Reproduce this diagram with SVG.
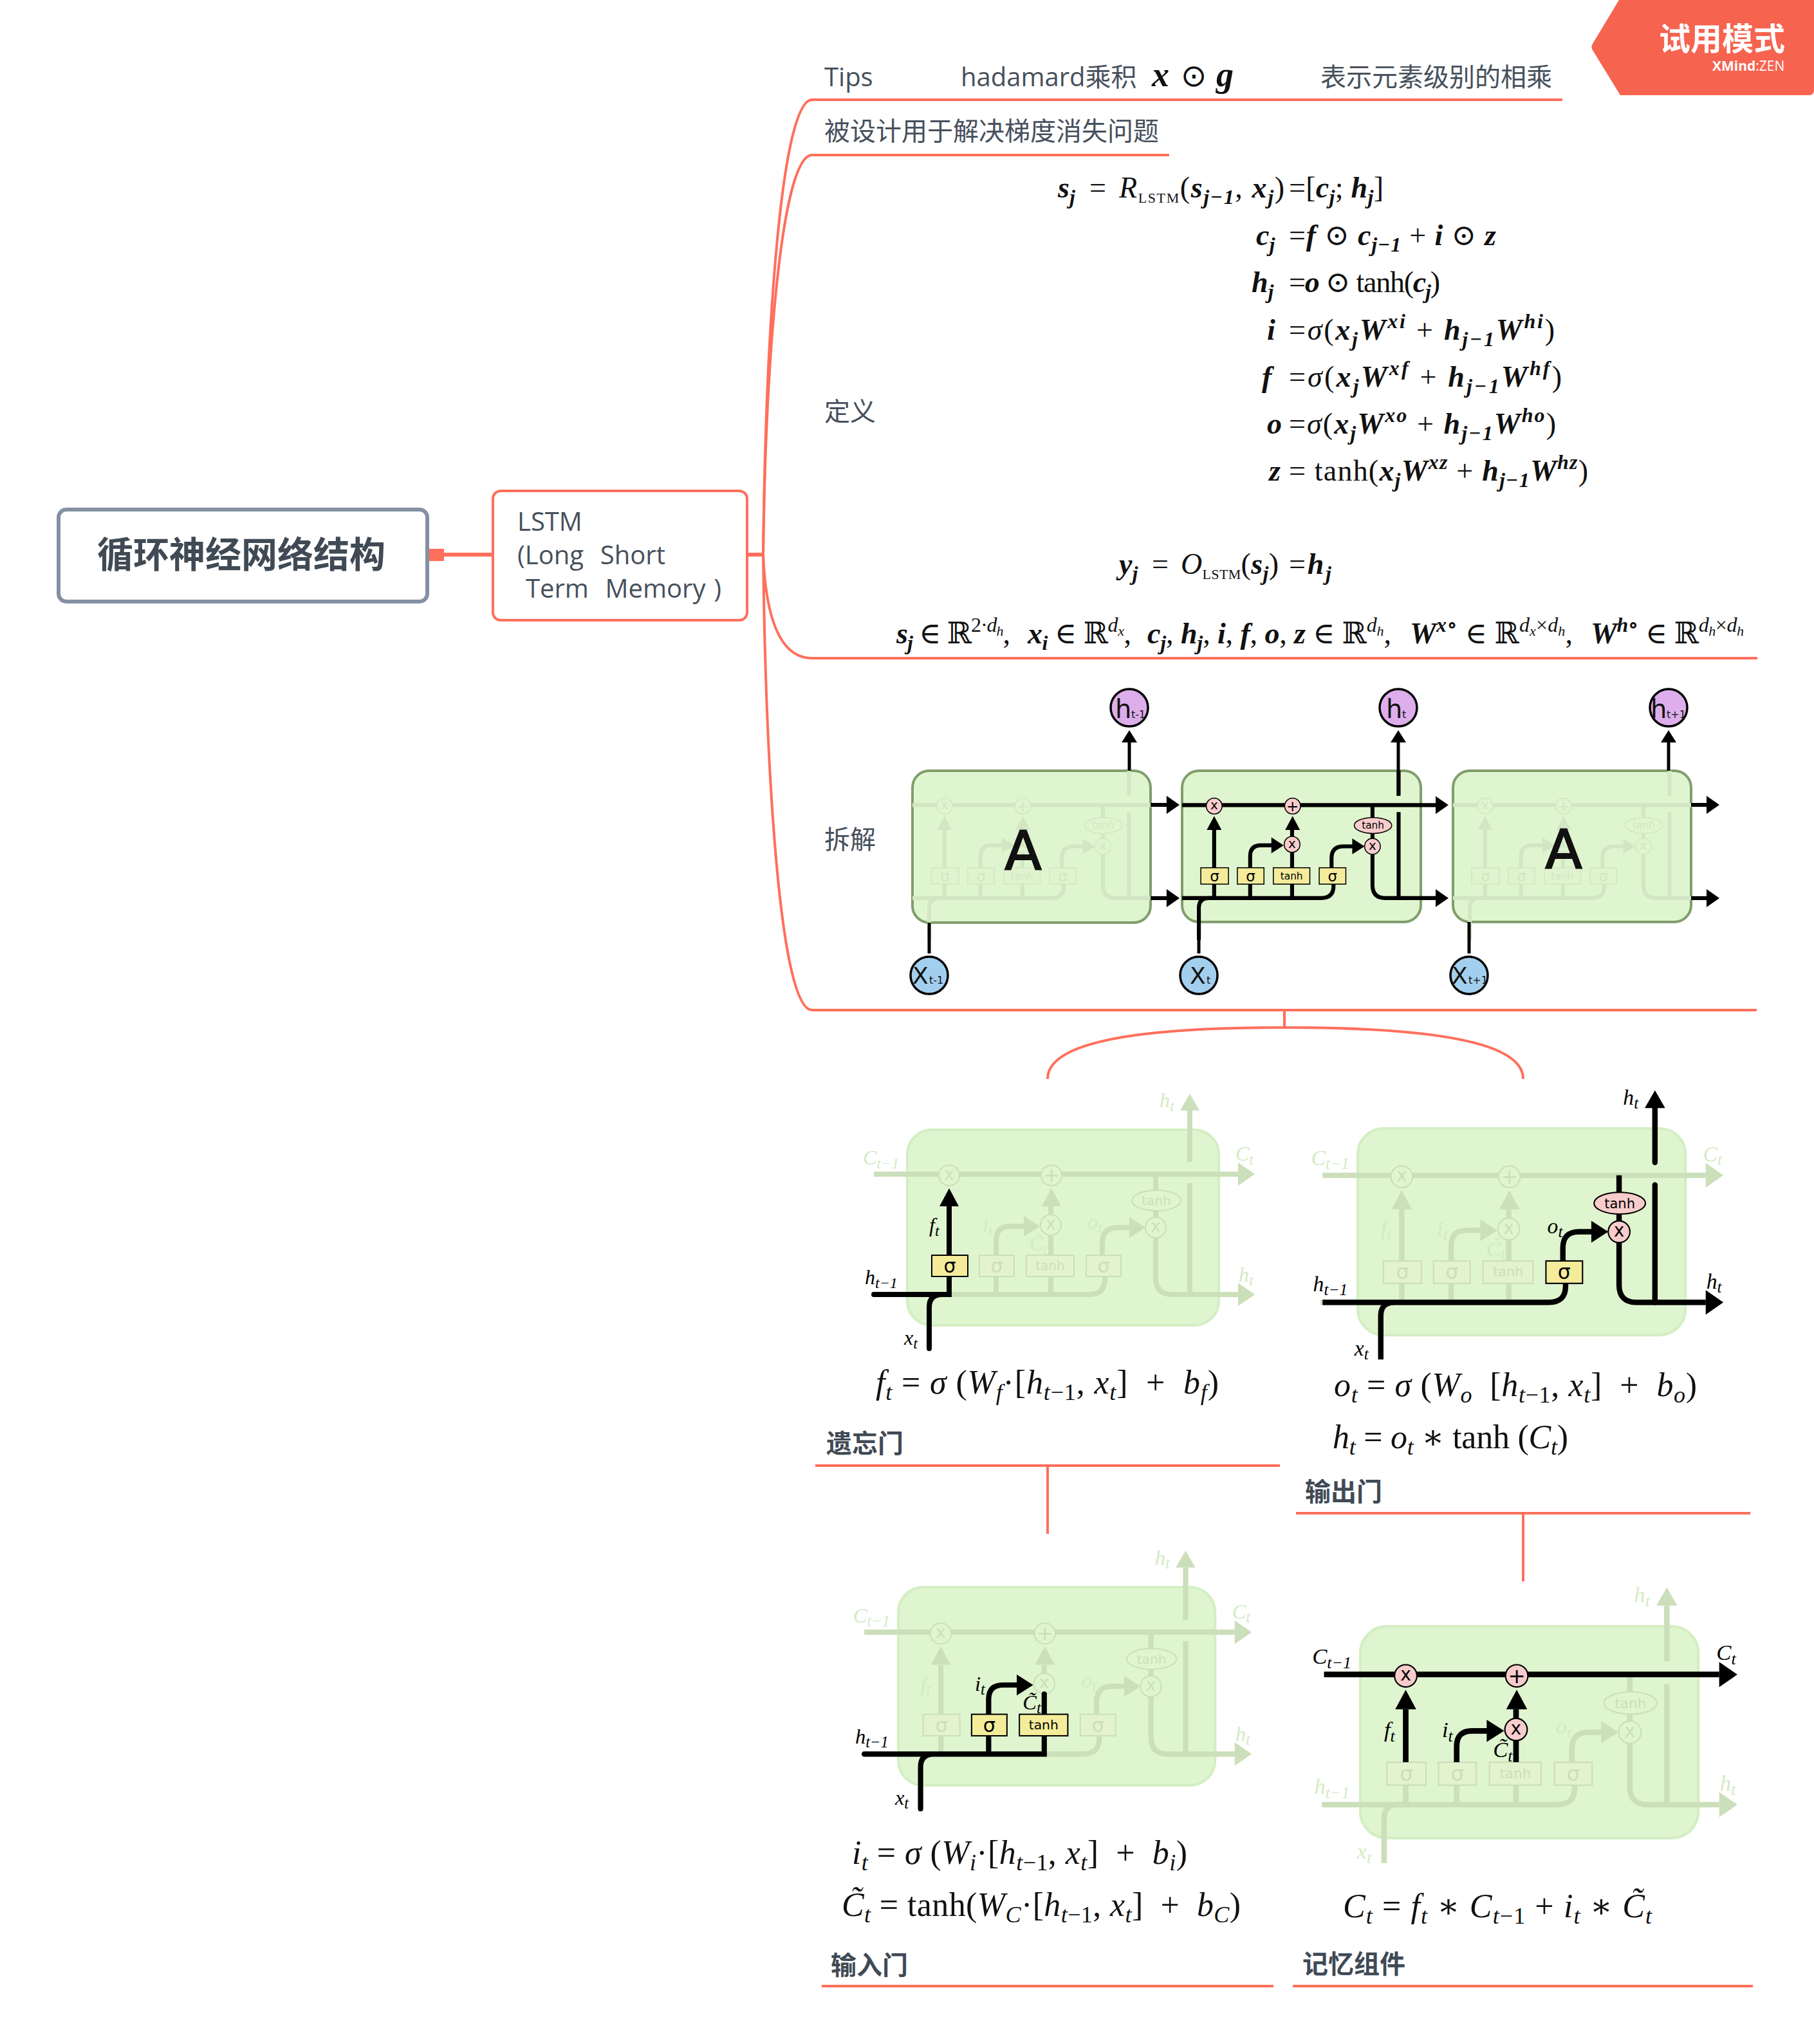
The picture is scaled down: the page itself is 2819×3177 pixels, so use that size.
<svg xmlns="http://www.w3.org/2000/svg" xmlns:xlink="http://www.w3.org/1999/xlink" width="2819" height="3177" viewBox="0 0 2819 3177">
<style>
text{white-space:pre}
.t{font:40px "Open Sans","Noto Sans CJK SC",sans-serif;fill:#46505C}
.ws{word-spacing:2.5px}
.tb{font:700 40px "Noto Sans CJK SC",sans-serif;fill:#3F4A55}
.tree{fill:none;stroke:#FF6F5B;stroke-width:4}
.m{font:46px "Liberation Serif","DejaVu Serif",serif;fill:#111}
.b{font-weight:700;font-style:italic}
.i{font-style:italic}
.sb{font-size:32px;baseline-shift:-10px}
.sp{font-size:32px;baseline-shift:18px}
.ssb{font-size:22px;baseline-shift:-6px}
.ls{font-size:22px;font-style:normal;font-weight:400;baseline-shift:-8px}
.f{font:52px "Liberation Serif","DejaVu Serif",serif;fill:#111}
.fs{font-size:36px;baseline-shift:-10px}
.faint{color:#CBDFBA;--g:#E3F3CD;--o:#DFF5CF}
.faint2{color:#D3E6C3;--g:#E0F3CE;--o:#DFF5CF}
.hi{color:#000;--g:#F4EC9A;--o:#F8CCCC}
.ln{fill:none;stroke:currentColor;stroke-width:8}
.ah{fill:currentColor;stroke:none}
.gt{fill:var(--g);stroke:currentColor;stroke-width:2}
.op{fill:var(--o);stroke:currentColor;stroke-width:2}
.gl{font-family:"DejaVu Sans",sans-serif;fill:currentColor;text-anchor:middle}
.lb{font:italic 32px "Liberation Serif","DejaVu Serif",serif;fill:currentColor}
.ls2{font-size:24px;baseline-shift:-6px}
.lbf{color:#D3EBC2}
.cellbox{fill:#DFF5CF;stroke:#D4EEC3;stroke-width:4}
.chainbox{fill:#DFF5CF;stroke:#7F9E6C;stroke-width:4}
.blk{fill:none;stroke:#000;stroke-width:5}
.pur{fill:#DDAEEB;stroke:#000;stroke-width:3.5}
.blu{fill:#A3CFEE;stroke:#000;stroke-width:3.5}
.big{font-family:"DejaVu Sans",sans-serif;fill:#111}
</style>
<defs>
<polygon id="ar1" class="ah" points="0,-18 26,0 0,18"/>
<polygon id="ar2" class="ah" points="0,-16 25,0 0,16"/>
<polygon id="au" class="ah" points="-15,0 0,-28 15,0"/>
<g id="s1"><rect class="gt" x="38" y="195" width="56" height="33"/><text class="gl" x="66" y="222" font-size="30">σ</text></g>
<g id="s2"><rect class="gt" x="112" y="195" width="54" height="33"/><text class="gl" x="139" y="222" font-size="30">σ</text></g>
<g id="tb"><rect class="gt" x="185" y="195" width="74" height="33"/><text class="gl" x="222" y="218" font-size="20">tanh</text></g>
<g id="s3"><rect class="gt" x="278" y="195" width="54" height="33"/><text class="gl" x="305" y="222" font-size="30">σ</text></g>
<g id="m1"><circle class="op" cx="65" cy="71" r="16"/><text class="gl" x="65" y="78" font-size="26">x</text></g>
<g id="pl"><circle class="op" cx="224" cy="71" r="16"/><text class="gl" x="224" y="81" font-size="30">+</text></g>
<g id="m2"><circle class="op" cx="223" cy="148" r="16"/><text class="gl" x="223" y="155" font-size="26">x</text></g>
<g id="m3"><circle class="op" cx="386" cy="152" r="16"/><text class="gl" x="386" y="159" font-size="26">x</text></g>
<g id="to"><ellipse class="op" cx="387" cy="110" rx="38" ry="16"/><text class="gl" x="387" y="117" font-size="20">tanh</text></g>
<g id="p-top"><path class="ln" d="M0 69H514"/><use href="#ar1" x="514" y="69"/></g>
<path id="p-bl" class="ln" d="M0 256H282Q307 256 307 232V228"/>
<g id="p-br"><path class="ln" d="M386 168V230Q386 256 412 256H514"/><use href="#ar1" x="514" y="256"/></g>
<path id="p-x" class="ln" d="M34 340V276Q34 256 54 256H70"/>
<g id="p-f"><path class="ln" d="M65 256V228M65 195V119"/><use href="#au" x="65" y="119"/></g>
<g id="p-i"><path class="ln" d="M138 256V228M138 195V172Q138 150 160 150H182"/><use href="#ar2" x="181" y="150"/></g>
<g id="p-c"><path class="ln" d="M223 256V228M223 195V164M223 132V119"/><use href="#au" x="224" y="119"/></g>
<g id="p-o"><path class="ln" d="M303 195V176Q303 152 327 152H347"/><use href="#ar2" x="345" y="152"/></g>
<path id="p-t" class="ln" d="M386 69V94M386 126V136"/>
<path id="p-h" class="ln" d="M439 256V83M439 50V0"/>
<g id="core">
<use href="#p-bl"/><use href="#p-x"/><use href="#p-top"/><use href="#p-br"/><use href="#p-f"/><use href="#p-i"/><use href="#p-c"/><use href="#p-o"/><use href="#p-t"/><use href="#p-h"/>
<use href="#s1"/><use href="#s2"/><use href="#tb"/><use href="#s3"/><use href="#m1"/><use href="#pl"/><use href="#m2"/><use href="#m3"/><use href="#to"/>
</g>
<g id="stubs"><path class="ln" d="M-52 69H0M-55 256H0M439 0V-30"/><polygon class="ah" points="424,-30 439,-56 454,-30"/></g>
<text id="l-cp" class="lb" x="-69" y="54">C<tspan class="ls2">t−1</tspan></text>
<text id="l-c" class="lb" x="510" y="48">C<tspan class="ls2">t</tspan></text>
<text id="l-ht" class="lb" x="392" y="-35">h<tspan class="ls2">t</tspan></text>
<text id="l-hr" class="lb" x="515" y="236">h<tspan class="ls2">t</tspan></text>
<text id="l-hp" class="lb" x="-66" y="240">h<tspan class="ls2">t−1</tspan></text>
<text id="l-x" class="lb" x="-5" y="334">x<tspan class="ls2">t</tspan></text>
<text id="l-f" class="lb" x="34" y="159">f<tspan class="ls2">t</tspan></text>
<text id="l-i" class="lb" x="117" y="159">i<tspan class="ls2">t</tspan></text>
<text id="l-ct" class="lb" x="190" y="188">C̃<tspan class="ls2">t</tspan></text>
<text id="l-o" class="lb" x="280" y="154">o<tspan class="ls2">t</tspan></text>
<g id="faintcell" class="faint">
<rect class="cellbox" x="0" y="0" width="484" height="304" rx="38"/>
<use href="#stubs"/><use href="#core"/>
</g>
</defs>

<g id="connectors">
<path class="tree" style="stroke-width:6" d="M690 862H766"/>
<rect x="667" y="853" width="23" height="19" fill="#FF6F5B"/>
<path class="tree" style="stroke-width:6" d="M1161 862H1186"/>
<path class="tree" d="M1186 862C1190 500 1215 155 1262 155H2428"/>
<path class="tree" d="M1186 862C1190 550 1215 241 1262 241H1817"/>
<path class="tree" d="M1186 862C1190 960 1212 1023 1262 1023H2731"/>
<path class="tree" d="M1186 862C1190 1200 1212 1570 1262 1570H2730"/>
<path class="tree" d="M1996 1570V1597M1628 1677C1628 1630 1720 1597 1996 1597C2272 1597 2367 1630 2367 1677"/>
<path class="tree" d="M1267 2278H1989M1628 2278V2384"/>
<path class="tree" d="M2014 2352H2720M2367 2352V2458"/>
<path class="tree" d="M1277 3087H1979"/>
<path class="tree" d="M2009 3087H2724"/>
</g>

<g id="badge">
<path d="M2516 0H2819V140Q2819 148 2811 148H2518L2475 78Q2472 73 2475 68Z" fill="#F6634F"/>
<text x="2578" y="78" font-family="Noto Sans CJK SC,sans-serif" font-weight="700" font-size="49" fill="#fff">试用模式</text>
<text x="2661" y="110" font-family="Open Sans,sans-serif" font-size="21" fill="#fff"><tspan font-weight="700">XMind</tspan>:ZEN</text>
</g>

<g id="root">
<rect x="91" y="792" width="573" height="143" rx="12" fill="#fff" stroke="#8490A3" stroke-width="6"/>
<text x="375" y="882" text-anchor="middle" font-family="Noto Sans CJK SC,sans-serif" font-weight="700" font-size="56" fill="#3F4A55">循环神经网络结构</text>
</g>
<g id="lstm">
<rect x="766" y="763" width="395" height="201" rx="12" fill="#fff" stroke="#FF6F5B" stroke-width="4"/>
<text class="t ws" x="804" y="825">LSTM</text>
<text class="t ws" x="804" y="877">(Long  Short</text>
<text class="t ws" x="804" y="929"> Term  Memory )</text>
</g>
<g id="tips">
<text class="t" x="1281" y="134">Tips</text>
<text class="t" x="1493" y="134">hadamard乘积</text>
<text x="1790" y="134" font-family="Liberation Serif,serif" font-weight="700" font-style="italic" font-size="54" fill="#111">x</text>
<text x="1855" y="134" text-anchor="middle" font-family="DejaVu Sans,sans-serif" font-size="48" fill="#111">⊙</text>
<text x="1890" y="134" font-family="Liberation Serif,serif" font-weight="700" font-style="italic" font-size="54" fill="#111">g</text>
<text class="t" x="2052" y="134">表示元素级别的相乘</text>
</g>
<g id="purpose"><text class="t" x="1281" y="218">被设计用于解决梯度消失问题</text></g>

<g id="definition">
<text class="t" x="1281" y="654">定义</text>
<text class="m" x="1644" y="307"><tspan class="b">s<tspan class="sb">j</tspan></tspan></text><text class="m" x="1693" y="307">=</text>
<text class="m" x="1739" y="307" textLength="257"><tspan class="i">R</tspan><tspan class="ls">LSTM</tspan>(<tspan class="b">s<tspan class="sb">j−1</tspan></tspan>, <tspan class="b">x<tspan class="sb">j</tspan></tspan>)</text>
<text class="m" x="2003" y="307" textLength="147">=[<tspan class="b">c<tspan class="sb">j</tspan></tspan>; <tspan class="b">h<tspan class="sb">j</tspan></tspan>]</text>
<text class="m" x="1952" y="381"><tspan class="b">c<tspan class="sb">j</tspan></tspan></text>
<text class="m" x="2003" y="381" textLength="322">=<tspan class="b">f</tspan> ⊙ <tspan class="b">c<tspan class="sb">j−1</tspan></tspan> + <tspan class="b">i</tspan> ⊙ <tspan class="b">z</tspan></text>
<text class="m" x="1945" y="454"><tspan class="b">h<tspan class="sb">j</tspan></tspan></text>
<text class="m" x="2003" y="454" textLength="235">=<tspan class="b">o</tspan> ⊙ tanh(<tspan class="b">c<tspan class="sb">j</tspan></tspan>)</text>
<text class="m" x="1969" y="528"><tspan class="b">i</tspan></text>
<text class="m" x="2003" y="528" textLength="413">=<tspan class="i">σ</tspan>(<tspan class="b">x<tspan class="sb">j</tspan>W<tspan class="sp">xi</tspan></tspan> + <tspan class="b">h<tspan class="sb">j−1</tspan>W<tspan class="sp">hi</tspan></tspan>)</text>
<text class="m" x="1961" y="601"><tspan class="b">f</tspan></text>
<text class="m" x="2003" y="601" textLength="424">=<tspan class="i">σ</tspan>(<tspan class="b">x<tspan class="sb">j</tspan>W<tspan class="sp">xf</tspan></tspan> + <tspan class="b">h<tspan class="sb">j−1</tspan>W<tspan class="sp">hf</tspan></tspan>)</text>
<text class="m" x="1969" y="674"><tspan class="b">o</tspan></text>
<text class="m" x="2003" y="674" textLength="415">=<tspan class="i">σ</tspan>(<tspan class="b">x<tspan class="sb">j</tspan>W<tspan class="sp">xo</tspan></tspan> + <tspan class="b">h<tspan class="sb">j−1</tspan>W<tspan class="sp">ho</tspan></tspan>)</text>
<text class="m" x="1972" y="747"><tspan class="b">z</tspan></text>
<text class="m" x="2003" y="747" textLength="465">= tanh(<tspan class="b">x<tspan class="sb">j</tspan>W<tspan class="sp">xz</tspan></tspan> + <tspan class="b">h<tspan class="sb">j−1</tspan>W<tspan class="sp">hz</tspan></tspan>)</text>
<text class="m" x="1739" y="892"><tspan class="b">y<tspan class="sb">j</tspan></tspan></text><text class="m" x="1790" y="892">=</text>
<text class="m" x="1835" y="892" textLength="152"><tspan class="i">O</tspan><tspan class="ls">LSTM</tspan>(<tspan class="b">s<tspan class="sb">j</tspan></tspan>)</text>
<text class="m" x="2003" y="892" textLength="66">=<tspan class="b">h<tspan class="sb">j</tspan></tspan></text>
<text class="m" x="1393" y="1000" textLength="177"><tspan class="b">s<tspan class="sb">j</tspan></tspan> ∈ ℝ<tspan class="sp">2·<tspan class="i">d<tspan class="ssb">h</tspan></tspan></tspan>,</text>
<text class="m" x="1597" y="1000" textLength="161"><tspan class="b">x<tspan class="sb">i</tspan></tspan> ∈ ℝ<tspan class="sp i">d<tspan class="ssb">x</tspan></tspan>,</text>
<text class="m" x="1783" y="1000" textLength="379"><tspan class="b">c<tspan class="sb">j</tspan></tspan>, <tspan class="b">h<tspan class="sb">j</tspan></tspan>, <tspan class="b">i</tspan>, <tspan class="b">f</tspan>, <tspan class="b">o</tspan>, <tspan class="b">z</tspan> ∈ ℝ<tspan class="sp i">d<tspan class="ssb">h</tspan></tspan>,</text>
<text class="m" x="2191" y="1000" textLength="253"><tspan class="b">W<tspan class="sp">x∘</tspan></tspan> ∈ ℝ<tspan class="sp i">d<tspan class="ssb">x</tspan><tspan style="font-style:normal">×</tspan>d<tspan class="ssb">h</tspan></tspan>,</text>
<text class="m" x="2472" y="1000" textLength="238"><tspan class="b">W<tspan class="sp">h∘</tspan></tspan> ∈ ℝ<tspan class="sp i">d<tspan class="ssb">h</tspan><tspan style="font-style:normal">×</tspan>d<tspan class="ssb">h</tspan></tspan></text>
</g>

<g id="chain">
<text class="t" x="1281" y="1319">拆解</text>
<g id="cell-left">
<rect class="chainbox" x="1418" y="1198" width="370" height="236" rx="26"/>
<g class="faint2" transform="translate(1418 1198) scale(.7665 .773)"><use href="#core"/></g>
<text class="big" x="1590" y="1352" text-anchor="middle" font-size="84" stroke="#111" stroke-width="2">A</text>
</g>
<g id="cell-mid">
<rect class="chainbox" x="1837" y="1198" width="371" height="235" rx="26"/>
<g class="hi" transform="translate(1837 1198) scale(.7665 .773)"><use href="#core"/></g>
</g>
<g id="cell-right">
<rect class="chainbox" x="2258" y="1198" width="370" height="235" rx="26"/>
<g class="faint2" transform="translate(2258 1198) scale(.7665 .773)"><use href="#core"/></g>
<text class="big" x="2430" y="1350" text-anchor="middle" font-size="84" stroke="#111" stroke-width="2">A</text>
</g>
<g id="chain-links">
<path class="blk" style="stroke-width:6" d="M1788 1251H1815M1788 1396H1815M2628 1251H2654M2628 1396H2654"/>
<path d="M1813 1237L1833 1251L1813 1265ZM1813 1382L1833 1396L1813 1410ZM2652 1237L2672 1251L2652 1265ZM2652 1382L2672 1396L2652 1410Z" fill="#000"/>
<path class="blk" d="M1755 1198V1154M2173 1237V1154M2593 1198V1154M1444 1434V1482M1863 1430V1482M2283 1433V1482"/>
<path d="M1755 1135L1743 1154H1767ZM2173 1135L2161 1154H2185ZM2593 1135L2581 1154H2605Z" fill="#000"/>
</g>
<g id="h-prev"><circle class="pur" cx="1755" cy="1100" r="29"/><text class="big" x="1733" y="1116" font-size="40">h</text><text class="big" x="1758" y="1116" font-size="16">t-1</text></g>
<g id="h-cur"><circle class="pur" cx="2173" cy="1100" r="29"/><text class="big" x="2154" y="1116" font-size="40">h</text><text class="big" x="2179" y="1116" font-size="16">t</text></g>
<g id="h-next"><circle class="pur" cx="2593" cy="1100" r="29"/><text class="big" x="2565" y="1116" font-size="40">h</text><text class="big" x="2590" y="1116" font-size="16">t+1</text></g>
<g id="x-prev"><circle class="blu" cx="1444" cy="1516" r="29"/><text class="big" x="1418" y="1529" font-size="36">X</text><text class="big" x="1444" y="1529" font-size="16">t-1</text></g>
<g id="x-cur"><circle class="blu" cx="1863" cy="1516" r="29"/><text class="big" x="1849" y="1529" font-size="36">X</text><text class="big" x="1875" y="1529" font-size="16">t</text></g>
<g id="x-next"><circle class="blu" cx="2283" cy="1516" r="29"/><text class="big" x="2256" y="1529" font-size="36">X</text><text class="big" x="2282" y="1529" font-size="16">t+1</text></g>
</g>

<g id="forget-gate">
<g transform="translate(1410 1756)">
<use href="#faintcell"/>
<g class="lbf"><use href="#l-cp"/><use href="#l-c"/><use href="#l-ht"/><use href="#l-hr"/><use href="#l-i"/><use href="#l-ct"/><use href="#l-o"/></g>
<g class="hi"><path class="ln" stroke-linecap="round" d="M-52 256H65V228M65 195V119M34 340V276Q34 256 54 256"/><use href="#au" x="65" y="119"/><use href="#s1"/><use href="#l-hp"/><use href="#l-x"/><use href="#l-f"/></g>
</g>
<text class="f" x="1361" y="2166" textLength="533"><tspan class="i">f<tspan class="fs">t</tspan></tspan> = <tspan class="i">σ</tspan> (<tspan class="i">W<tspan class="fs">f</tspan></tspan>·[<tspan class="i">h<tspan class="fs">t</tspan></tspan><tspan class="fs">−1</tspan>, <tspan class="i">x<tspan class="fs">t</tspan></tspan>]  +  <tspan class="i">b<tspan class="fs">f</tspan></tspan>)</text>
<text class="tb" x="1284" y="2258">遗忘门</text>
</g>

<g id="output-gate">
<g transform="translate(2110 1754) scale(1.052 1.056)">
<use href="#faintcell"/>
<g class="lbf"><use href="#l-cp"/><use href="#l-c"/><use href="#l-f"/><use href="#l-i"/><use href="#l-ct"/></g>
<g class="hi"><path class="ln" d="M-52 256H282Q307 256 307 232V228M34 340V276Q34 256 54 256"/><use href="#p-o"/><use href="#p-t"/><use href="#p-br"/><path class="ln" stroke-linecap="round" d="M439 256V83M439 50V-30"/><polygon class="ah" points="424,-30 439,-56 454,-30"/><use href="#s3"/><use href="#m3"/><use href="#to"/><use href="#l-hp"/><use href="#l-x"/><use href="#l-o"/><use href="#l-ht"/><use href="#l-hr"/></g>
</g>
<text class="f" x="2073" y="2170" textLength="564"><tspan class="i">o<tspan class="fs">t</tspan></tspan> = <tspan class="i">σ</tspan> (<tspan class="i">W<tspan class="fs">o</tspan></tspan>  [<tspan class="i">h<tspan class="fs">t</tspan></tspan><tspan class="fs">−1</tspan>, <tspan class="i">x<tspan class="fs">t</tspan></tspan>]  +  <tspan class="i">b<tspan class="fs">o</tspan></tspan>)</text>
<text class="f" x="2071" y="2251" textLength="366"><tspan class="i">h<tspan class="fs">t</tspan></tspan> = <tspan class="i">o<tspan class="fs">t</tspan></tspan> ∗ tanh (<tspan class="i">C<tspan class="fs">t</tspan></tspan>)</text>
<text class="tb" x="2028" y="2333">输出门</text>
</g>

<g id="input-gate">
<g transform="translate(1396 2467) scale(1.017 1.013)">
<use href="#faintcell"/>
<g class="lbf"><use href="#l-cp"/><use href="#l-c"/><use href="#l-ht"/><use href="#l-hr"/><use href="#l-f"/><use href="#l-o"/></g>
<g class="hi"><path class="ln" stroke-linecap="round" d="M-52 256H223V228M223 195V164M34 340V276Q34 256 54 256"/><use href="#p-i"/><use href="#s2"/><use href="#tb"/><use href="#l-hp"/><use href="#l-x"/><use href="#l-i"/><use href="#l-ct"/></g>
</g>
<text class="f" x="1324" y="2897" textLength="521"><tspan class="i">i<tspan class="fs">t</tspan></tspan> = <tspan class="i">σ</tspan> (<tspan class="i">W<tspan class="fs">i</tspan></tspan>·[<tspan class="i">h<tspan class="fs">t</tspan></tspan><tspan class="fs">−1</tspan>, <tspan class="i">x<tspan class="fs">t</tspan></tspan>]  +  <tspan class="i">b<tspan class="fs">i</tspan></tspan>)</text>
<text class="f" x="1308" y="2978" textLength="620"><tspan class="i">C̃<tspan class="fs">t</tspan></tspan> = tanh(<tspan class="i">W<tspan class="fs">C</tspan></tspan>·[<tspan class="i">h<tspan class="fs">t</tspan></tspan><tspan class="fs">−1</tspan>, <tspan class="i">x<tspan class="fs">t</tspan></tspan>]  +  <tspan class="i">b<tspan class="fs">C</tspan></tspan>)</text>
<text class="tb" x="1291" y="3069">输入门</text>
</g>

<g id="memory-cell">
<g transform="translate(2114 2528) scale(1.085 1.082)">
<use href="#faintcell"/>
<g class="lbf"><use href="#l-ht"/><use href="#l-hr"/><use href="#l-hp"/><use href="#l-x"/><use href="#l-o"/></g>
<g class="hi"><path class="ln" d="M-52 69H514M65 195V119M138 195V172Q138 150 160 150H182M223 195V164M223 132V119"/><use href="#ar1" x="514" y="69"/><use href="#au" x="65" y="119"/><use href="#au" x="224" y="119"/><use href="#ar2" x="181" y="150"/><use href="#m1"/><use href="#pl"/><use href="#m2"/><use href="#l-cp"/><use href="#l-c"/><use href="#l-f"/><use href="#l-i"/><use href="#l-ct"/></g>
</g>
<text class="f" x="2087" y="2980" textLength="480"><tspan class="i">C<tspan class="fs">t</tspan></tspan> = <tspan class="i">f<tspan class="fs">t</tspan></tspan> ∗ <tspan class="i">C<tspan class="fs">t</tspan></tspan><tspan class="fs">−1</tspan> + <tspan class="i">i<tspan class="fs">t</tspan></tspan> ∗ <tspan class="i">C̃<tspan class="fs">t</tspan></tspan></text>
<text class="tb" x="2024" y="3067">记忆组件</text>
</g>
</svg>
